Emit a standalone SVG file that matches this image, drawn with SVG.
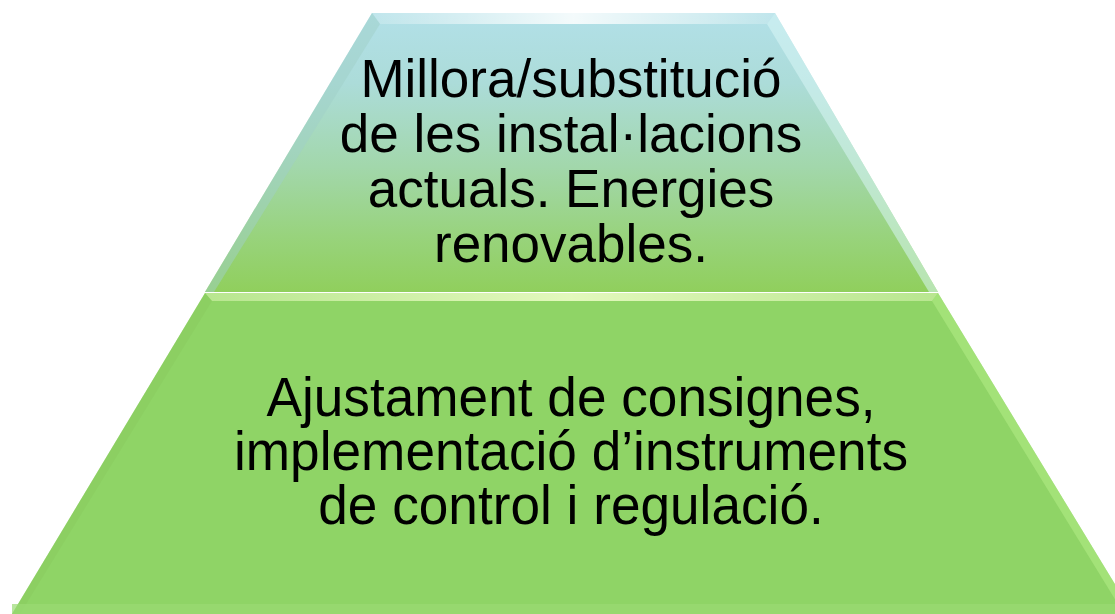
<svg xmlns="http://www.w3.org/2000/svg" width="1115" height="614" viewBox="0 0 1115 614">
<defs>
<linearGradient id="gTop" x1="0" y1="13" x2="0" y2="293" gradientUnits="userSpaceOnUse">
<stop offset="0" stop-color="#b2e0e8"/>
<stop offset="0.25" stop-color="#acdcd9"/>
<stop offset="0.55" stop-color="#a2d7ab"/>
<stop offset="0.8" stop-color="#98d37c"/>
<stop offset="1" stop-color="#90cf5c"/>
</linearGradient>
<linearGradient id="gTopHi" x1="0" y1="0" x2="1" y2="0">
<stop offset="0" stop-color="#ffffff" stop-opacity="0.2"/>
<stop offset="0.5" stop-color="#ffffff" stop-opacity="0.95"/>
<stop offset="1" stop-color="#ffffff" stop-opacity="0.2"/>
</linearGradient>
<linearGradient id="gBotHi" x1="0" y1="0" x2="1" y2="0">
<stop offset="0" stop-color="#f0ffc8" stop-opacity="0.5"/>
<stop offset="0.5" stop-color="#f2ffcc" stop-opacity="1"/>
<stop offset="1" stop-color="#f0ffc8" stop-opacity="0.5"/>
</linearGradient>
<style>
.lbl{font-family:"Liberation Sans",Arial,sans-serif;font-size:53px;fill:#000;text-anchor:middle}
.lbl2{font-family:"Liberation Sans",Arial,sans-serif;font-size:56px;fill:#000;text-anchor:middle}
</style>
</defs>
<rect width="1115" height="614" fill="#ffffff"/>
<g id="level-bottom">
<polygon points="205,293 938,293 1133,614 12,614" fill="#8fd466"/>
<polygon points="205,293 938,293 932,301 212,301" fill="url(#gBotHi)" opacity="0.85"/>
<polygon points="938,293 1133,614 1124,614 932,301" fill="#b8f08a" opacity="0.5"/>
<polygon points="205,293 212,301 20,614 12,614" fill="#86c85c" opacity="0.4"/>
<rect x="12" y="604" width="1110" height="10" fill="#9ada74" opacity="0.7"/>
<g transform="translate(571,0) scale(0.95,1)">
<text class="lbl2" x="0" y="416">Ajustament de consignes,</text>
<text class="lbl2" x="0" y="470">implementació d’instruments</text>
<text class="lbl2" x="0" y="524">de control i regulació.</text>
</g>
</g>
<g id="level-top">
<polygon points="372,13 775,13 938,292 205,292" fill="url(#gTop)"/>
<polygon points="372,13 775,13 767,24 380,24" fill="url(#gTopHi)" opacity="0.9"/>
<polygon points="775,13 938,292 929,292 767,24" fill="#d8f6f6" opacity="0.55"/>
<polygon points="372,13 380,24 214,292 205,292" fill="#9fd0c8" opacity="0.5"/>
<text class="lbl" x="571" y="97">Millora/substitució</text>
<text class="lbl" x="571" y="152">de les instal·lacions</text>
<text class="lbl" x="571" y="207">actuals. Energies</text>
<text class="lbl" x="571" y="262">renovables.</text>
</g>
<g id="connectors"/>
</svg>
